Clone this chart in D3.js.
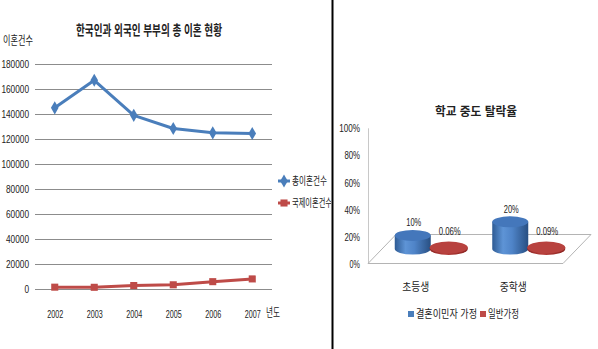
<!DOCTYPE html>
<html><head><meta charset="utf-8">
<script src="https://cdn.jsdelivr.net/npm/d3@7"></script>
<style>
html,body{margin:0;padding:0;background:#fff;}
svg{display:block;}
text{font-family:"Liberation Sans","Noto Sans CJK KR",sans-serif;fill:#222;}
</style></head>
<body>
<svg id="c" width="598" height="349"></svg>
<script>
// ---- Left chart data ----
const years = ["2002","2003","2004","2005","2006","2007"];
const totalDivorces = [145000,167000,139000,128500,125000,124500];
const intlDivorces = [1700,1600,3000,3600,6100,8300];
const yTicksLeft = [0,20000,40000,60000,80000,100000,120000,140000,160000,180000];
const leftSeriesNames = ["총이혼건수","국제이혼건수"];
// ---- Right chart data ----
const categories = ["초등생","중학생"];
const migrantFamily = [0.10,0.20];
const generalFamily = [0.0006,0.0009];
const rightLabels = [["10%","20%"],["0.06%","0.09%"]];
const yTicksRight = [0,0.2,0.4,0.6,0.8,1];
const rightSeriesNames = ["결혼이민자 가정","일반가정"];

const svg = d3.select("#c");
// place a text of fixed width w; anchor: "start" | "middle" | "end" relative to x
function fitAt(sel,x,w,anchor){
  const x0 = anchor==="middle" ? x-w/2 : anchor==="end" ? x-w : x;
  return sel.attr("text-anchor","start").attr("x",x0).attr("textLength",w).attr("lengthAdjust","spacingAndGlyphs");
}

// ================= LEFT CHART =================
svg.append("clipPath").attr("id","clipL").append("rect").attr("x",0).attr("y",0).attr("width",331).attr("height",349);
const L = svg.append("g").attr("clip-path","url(#clipL)");
const x = d3.scalePoint().domain(years).range([35,272]).padding(0.5);
const y = d3.scaleLinear().domain([0,180000]).range([289.3,64]);

fitAt(L.append("text").attr("y",35).attr("font-size",14).attr("font-weight","bold")
  .text("한국인과 외국인 부부의 총 이혼 현황"),149,146,"middle");
fitAt(L.append("text").attr("y",45).attr("font-size",12).text("이혼건수"),3,30,"start");

// gridlines
L.append("g").selectAll("line").data(yTicksLeft).join("line")
  .attr("x1",35).attr("x2",272).attr("y1",d=>Math.round(y(d))+0.5).attr("y2",d=>Math.round(y(d))+0.5)
  .attr("stroke","#8c8c8c").attr("stroke-width",1);

const ya = L.append("g").attr("transform","translate(35,0)")
  .call(d3.axisLeft(y).tickValues(yTicksLeft).tickSize(0).tickPadding(6).tickFormat(d3.format("d")));
ya.select(".domain").remove();
ya.selectAll("text").attr("font-size",10.5).attr("fill","#222")
  .each(function(d){ fitAt(d3.select(this), -6, String(d).length*4.6, "end"); });

const xa = L.append("g").attr("transform","translate(0,309)")
  .call(d3.axisBottom(x).tickSize(0).tickPadding(0));
xa.select(".domain").remove();
xa.selectAll("text").attr("font-size",10.5).attr("dy","0.9em").attr("fill","#222")
  .each(function(){ fitAt(d3.select(this),0,16,"middle"); });
fitAt(L.append("text").attr("y",317).attr("font-size",12).text("년도"),266,14,"start");

const line = d3.line().x((d,i)=>x(years[i])).y(d=>y(d));
const blue = "#4a7ebb", red = "#be4b48";
L.append("path").datum(totalDivorces).attr("d",line).attr("fill","none")
  .attr("stroke",blue).attr("stroke-width",3).attr("stroke-linejoin","round");
L.append("path").datum(intlDivorces).attr("d",line).attr("fill","none")
  .attr("stroke",red).attr("stroke-width",3).attr("stroke-linejoin","round");
const diamond = d3.symbol().type(d3.symbolDiamond).size(50);
const square = d3.symbol().type(d3.symbolSquare).size(50);
L.append("g").selectAll("path").data(totalDivorces).join("path")
  .attr("d",diamond).attr("transform",(d,i)=>`translate(${x(years[i])},${y(d)})`).attr("fill",blue);
L.append("g").selectAll("path").data(intlDivorces).join("path")
  .attr("d",square).attr("transform",(d,i)=>`translate(${x(years[i])},${y(d)})`).attr("fill",red);

// legend
const lg = L.append("g");
[[blue,diamond,181],[red,square,203]].forEach(([c,s,yy],i)=>{
  lg.append("line").attr("x1",278).attr("x2",290).attr("y1",yy).attr("y2",yy).attr("stroke",c).attr("stroke-width",3);
  lg.append("path").attr("d",s).attr("transform",`translate(284,${yy})`).attr("fill",c);
  fitAt(lg.append("text").attr("y",yy+4).attr("font-size",11).text(leftSeriesNames[i]),292, i===0?35:40,"start");
});

// divider
svg.append("rect").attr("x",331.5).attr("y",0).attr("width",2).attr("height",349).attr("fill","#000");

// ================= RIGHT CHART =================
const R = svg.append("g");
fitAt(R.append("text").attr("y",116).attr("font-size",12).attr("font-weight","bold")
  .text("학교 중도 탈락율"),476,82,"middle");

const yR = d3.scaleLinear().domain([0,1]).range([264.3,128.3]);
const yra = R.append("g").attr("transform","translate(368,0)")
  .call(d3.axisLeft(yR).tickValues(yTicksRight).tickSize(0).tickPadding(8).tickFormat(d3.format(".0%")));
yra.select(".domain").remove();
yra.selectAll("text").attr("font-size",10.5).attr("fill","#222")
  .each(function(d){ fitAt(d3.select(this), -8, d3.format(".0%")(d).length*5.2, "end"); });
R.append("line").attr("x1",368.5).attr("x2",368.5).attr("y1",yR(1)).attr("y2",263.5).attr("stroke","#c8c8c8");

const depth = [28,-29];
const front = 263.5;
const xb = d3.scaleBand().domain(categories).range([368,563]);
R.append("polygon").attr("points",[[368,front],[563,front],[563+depth[0],front+depth[1]],[368+depth[0],front+depth[1]]].map(p=>p.join(",")).join(" "))
  .attr("fill","none").attr("stroke","#b4b4b4").attr("stroke-width",1);

// gradients
const defs = svg.append("defs");
function grad(id,stops){ const g=defs.append("linearGradient").attr("id",id).attr("x1","0%").attr("x2","100%").attr("y1","0%").attr("y2","0%");
  stops.forEach(([o,c])=>g.append("stop").attr("offset",o).attr("stop-color",c)); }
grad("gB",[["0%","#2e5b94"],["30%","#5e94d6"],["55%","#4f84c8"],["100%","#284f82"]]);
grad("gR",[["0%","#8e2624"],["40%","#b8403c"],["100%","#8a2421"]]);

const baseY = front + depth[1]/2;
const series = [
  {vals:migrantFamily, off:-18, rx:18, ry:5.5, body:"url(#gB)", top:"#4477bb", lab:rightLabels[0]},
  {vals:generalFamily, off:18, rx:19, ry:6, body:"url(#gR)", top:"#b8423f", lab:rightLabels[1]}
];
series.forEach(s=>{
  s.vals.forEach((v,i)=>{
    const cx = xb(categories[i]) + xb.bandwidth()/2 + depth[0]/2 + s.off;
    const h = Math.max(yR(0)-yR(v),1.5);
    const top = baseY - h;
    const p = `M${cx-s.rx},${top} L${cx-s.rx},${baseY} A${s.rx},${s.ry} 0 0 0 ${cx+s.rx},${baseY} L${cx+s.rx},${top} Z`;
    R.append("path").attr("d",p).attr("fill",s.body);
    R.append("ellipse").attr("cx",cx).attr("cy",top).attr("rx",s.rx).attr("ry",s.ry).attr("fill",s.top);
    const lbl = s.lab[i];
    fitAt(R.append("text").attr("y",top-(s.off<0?9:13)).attr("font-size",11).text(lbl),
      cx+1, lbl.length>3?22:15, "middle");
  });
});

// category labels
R.append("g").selectAll("text").data(categories).join("text")
  .attr("y",291).attr("font-size",11).text(d=>d)
  .each(function(d){ fitAt(d3.select(this), xb(d)+xb.bandwidth()/2-1, 27, "middle"); });

// legend
R.append("rect").attr("x",408).attr("y",311).attr("width",6).attr("height",6).attr("fill","#4a7ebb");
fitAt(R.append("text").attr("y",318).attr("font-size",11).text(rightSeriesNames[0]),416,61,"start");
R.append("rect").attr("x",480).attr("y",311).attr("width",6).attr("height",6).attr("fill","#be4b48");
fitAt(R.append("text").attr("y",318).attr("font-size",11).text(rightSeriesNames[1]),488,31,"start");
</script>
</body></html>
